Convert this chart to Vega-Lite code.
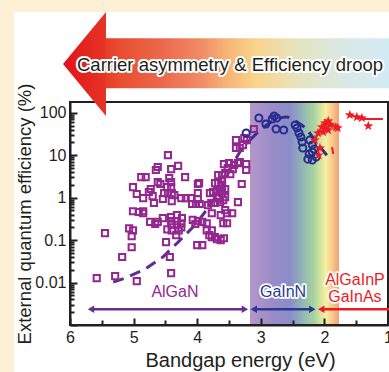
{
  "$schema": "https://vega.github.io/schema/vega-lite/v6.json",
  "width": 318,
  "height": 223,
  "autosize": "none",
  "padding": {"left": 70, "top": 102, "right": 1, "bottom": 47},
  "background": "#fdf0d4",
  "view": {"stroke": null},
  "config": {"font": "Liberation Sans"},
  "datasets": {
    "panel": [{"x": 6.88, "x2": 0.5, "y": 0.00001, "y2": 23900}],
    "band": [{"x": 3.17, "x2": 1.77, "y": 0.001, "y2": 180}],
    "frame": [{"x": 6, "x2": 1, "y": 0.001, "y2": 180}],
    "shaft": [{"x": 5.47, "x2": 0.9, "y": 378, "y2": 5710}],
    "head": [{"x": 5.772, "y": 1416}],
    "banner": [{"x": 3.484, "y": 942, "t": "Carrier asymmetry & Efficiency droop"}],
    "dash1": [
      {"x": 5.32, "y": 0.0102}, {"x": 5.14, "y": 0.0127}, {"x": 4.82, "y": 0.0207}, {"x": 4.54, "y": 0.04},
      {"x": 4.3, "y": 0.09}, {"x": 4.03, "y": 0.23}, {"x": 3.83, "y": 0.57}, {"x": 3.61, "y": 1.78},
      {"x": 3.48, "y": 5.0}, {"x": 3.31, "y": 13.3}, {"x": 3.17, "y": 22.8}
    ],
    "dash2": [
      {"x": 3.17, "y": 22.8}, {"x": 2.97, "y": 43.9}, {"x": 2.78, "y": 67.6}, {"x": 2.59, "y": 79.6},
      {"x": 2.43, "y": 60.7}, {"x": 2.3, "y": 43.9}, {"x": 2.13, "y": 20.5}, {"x": 1.94, "y": 9.1}
    ],
    "redlines": [
      {"g": "a", "o": 1, "x": 2.15, "y": 22.8}, {"g": "a", "o": 2, "x": 2.1, "y": 33}, {"g": "a", "o": 3, "x": 2.04, "y": 46},
      {"g": "a", "o": 4, "x": 1.99, "y": 57}, {"g": "a", "o": 5, "x": 1.94, "y": 64}, {"g": "a", "o": 6, "x": 1.88, "y": 55},
      {"g": "a", "o": 7, "x": 1.79, "y": 44},
      {"g": "b", "o": 1, "x": 1.88, "y": 15.6}, {"g": "b", "o": 2, "x": 1.86, "y": 10.7},
      {"g": "c", "o": 1, "x": 1.6, "y": 89}, {"g": "c", "o": 2, "x": 1.45, "y": 75}, {"g": "c", "o": 3, "x": 1.39, "y": 71.5},
      {"g": "c", "o": 4, "x": 1.08, "y": 71.5}
    ],
    "squares": [
      {"x":3.11,"y":41.5},{"x":3.22,"y":22.8},{"x":3.28,"y":17.4},{"x":3.39,"y":22.8},{"x":3.33,"y":14.8},{"x":3.39,"y":14.8},{"x":3.26,"y":25.5},{"x":3.33,"y":6.9},{"x":3.23,"y":6.2},{"x":3.23,"y":4.5},
      {"x":3.58,"y":6.2},{"x":3.50,"y":6.5},{"x":3.42,"y":5.9},{"x":3.36,"y":6.5},{"x":3.44,"y":4.7},{"x":3.48,"y":3.6},{"x":3.61,"y":3.4},{"x":3.61,"y":1.98},{"x":3.30,"y":2.1},{"x":4.46,"y":10.1},
      {"x":4.62,"y":5.3},{"x":4.65,"y":4.5},{"x":4.30,"y":5.6},{"x":4.41,"y":4.7},{"x":4.88,"y":3.06},{"x":4.81,"y":3.06},{"x":4.19,"y":3.06},{"x":4.44,"y":2.9},{"x":4.62,"y":2.33},{"x":4.58,"y":2.1},
      {"x":4.41,"y":2.33},{"x":4.47,"y":1.78},{"x":4.41,"y":1.78},{"x":3.99,"y":2.1},{"x":5.01,"y":1.78},{"x":4.73,"y":1.6},{"x":4.76,"y":1.36},{"x":4.52,"y":1.28},{"x":4.46,"y":1.28},{"x":4.40,"y":1.28},
      {"x":4.36,"y":1.15},{"x":4.95,"y":1.22},{"x":4.85,"y":0.98},{"x":4.70,"y":1.09},{"x":4.54,"y":0.93},{"x":4.40,"y":0.83},{"x":4.25,"y":0.98},{"x":4.18,"y":0.98},{"x":4.10,"y":0.98},{"x":3.99,"y":1.28},
      {"x":3.99,"y":0.93},{"x":3.80,"y":1.28},{"x":3.75,"y":1.36},{"x":3.69,"y":1.51},{"x":3.64,"y":1.6},{"x":3.56,"y":1.6},{"x":4.68,"y":0.75},{"x":4.08,"y":0.71},{"x":4.02,"y":0.71},{"x":3.96,"y":0.71},
      {"x":3.83,"y":0.67},{"x":3.78,"y":0.75},{"x":3.72,"y":0.75},{"x":3.66,"y":0.98},{"x":3.64,"y":0.79},{"x":3.59,"y":0.88},{"x":3.56,"y":1.03},{"x":3.61,"y":1.28},{"x":3.36,"y":0.79},{"x":3.52,"y":5.0},
      {"x":3.56,"y":3.8},{"x":3.67,"y":3.4},{"x":3.61,"y":2.6},{"x":3.67,"y":2.2},{"x":3.72,"y":2.2},{"x":5.01,"y":0.48},{"x":4.92,"y":0.46},{"x":4.85,"y":0.48},{"x":4.85,"y":0.43},{"x":4.74,"y":0.27},
      {"x":4.66,"y":0.24},{"x":4.62,"y":0.27},{"x":4.54,"y":0.33},{"x":4.41,"y":0.35},{"x":4.32,"y":0.39},{"x":4.24,"y":0.33},{"x":4.41,"y":0.28},{"x":4.32,"y":0.28},{"x":4.25,"y":0.25},{"x":4.40,"y":0.23},
      {"x":4.32,"y":0.23},{"x":4.25,"y":0.2},{"x":4.47,"y":0.18},{"x":4.40,"y":0.17},{"x":4.29,"y":0.17},{"x":5.07,"y":0.19},{"x":5.01,"y":0.17},{"x":5.03,"y":0.124},{"x":5.03,"y":0.068},{"x":5.18,"y":0.04},
      {"x":4.49,"y":0.09},{"x":4.43,"y":0.04},{"x":4.00,"y":0.076},{"x":3.92,"y":0.076},{"x":3.85,"y":0.17},{"x":3.77,"y":0.17},{"x":3.81,"y":0.131},{"x":3.69,"y":0.106},{"x":3.58,"y":0.111},{"x":3.63,"y":0.1},
      {"x":4.07,"y":0.3},{"x":3.99,"y":0.28},{"x":4.03,"y":0.24},{"x":3.92,"y":0.27},{"x":3.85,"y":0.25},{"x":3.77,"y":0.43},{"x":3.63,"y":0.39},{"x":3.56,"y":0.51},{"x":3.53,"y":0.43},{"x":3.45,"y":0.43},
      {"x":5.45,"y":0.146},{"x":5.58,"y":0.0127},{"x":5.29,"y":0.0142},{"x":4.95,"y":0.0108},{"x":4.41,"y":0.0167},{"x":4.33,"y":0.131},{"x":3.77,"y":0.118},{"x":3.72,"y":0.118},{"x":3.59,"y":0.25},{"x":3.53,"y":0.25},
      {"x":3.97,"y":2.2}
    ],
    "circles": [
      {"x":3.23,"y":33.4},{"x":3.03,"y":75.5},{"x":2.92,"y":54.5},{"x":2.82,"y":71.5},{"x":2.79,"y":84},{"x":2.75,"y":75.5},{"x":2.76,"y":41.5},{"x":2.64,"y":39.3},{"x":2.46,"y":51.6},{"x":2.43,"y":43.9},
      {"x":2.40,"y":33.4},{"x":2.37,"y":26.9},{"x":2.35,"y":20.5},{"x":2.34,"y":14.8},{"x":2.23,"y":22.8},{"x":2.19,"y":17.4},{"x":2.16,"y":14.0},{"x":2.24,"y":10.7},{"x":2.19,"y":11.9},{"x":2.26,"y":8.1},
      {"x":2.19,"y":7.7},{"x":2.13,"y":9.1}
    ],
    "stars": [
      {"x":1.6,"y":88.8},{"x":1.49,"y":79.6},{"x":1.41,"y":75.5},{"x":1.31,"y":48.9},
      {"x":2.15,"y":22.8},{"x":2.10,"y":33.4},{"x":2.04,"y":46.3},{"x":1.99,"y":57.5},{"x":1.94,"y":64},{"x":1.91,"y":51.6},
      {"x":1.99,"y":43.9},{"x":1.94,"y":39.3},{"x":2.02,"y":35.2},{"x":1.79,"y":43.9},{"x":2.07,"y":14.8},{"x":2.09,"y":10.1},{"x":1.82,"y":46}
    ],
    "ranges": [
      {"x": 5.67, "x2": 3.25, "y": 0.00236, "c": "p"},
      {"x": 3.11, "x2": 2.19, "y": 0.00236, "c": "b"},
      {"x": 2.05, "x2": 0.9, "y": 0.00236, "c": "r"}
    ],
    "heads": [
      {"x": 5.67, "y": 0.00236, "c": "p", "s": "L"},
      {"x": 3.25, "y": 0.00236, "c": "p", "s": "R"},
      {"x": 3.11, "y": 0.00236, "c": "b", "s": "L"},
      {"x": 2.19, "y": 0.00236, "c": "b", "s": "R"},
      {"x": 2.05, "y": 0.00236, "c": "r", "s": "L"}
    ],
    "labels": [
      {"x": 4.35, "y": 0.00594, "c": "m", "t": "AlGaN"},
      {"x": 2.65, "y": 0.00594, "c": "b", "t": "GaInN"},
      {"x": 1.52, "y": 0.0114, "c": "r", "t": "AlGaInP"},
      {"x": 1.52, "y": 0.00453, "c": "r", "t": "GaInAs"}
    ]
  },
  "encoding": {
    "x": {
      "field": "x", "type": "quantitative",
      "scale": {"domain": [1, 6], "reverse": true, "nice": false, "zero": false},
      "axis": {
        "values": [6, 5.5, 5, 4.5, 4, 3.5, 3, 2.5, 2, 1.5, 1],
        "labelExpr": "datum.value % 1 === 0 ? format(datum.value, 'd') : ''",
        "grid": false,
        "tickSize": {"condition": {"test": "datum.value % 1 === 0", "value": -7}, "value": -5},
        "tickWidth": 2, "tickColor": "#231f20",
        "domainWidth": 2, "domainColor": "#231f20",
        "labelFontSize": 16, "labelColor": "#231f20", "labelPadding": 11,
        "labelFlush": false, "labelOverlap": false,
        "title": "Bandgap energy (eV)", "titleFontSize": 20, "titleFontWeight": "normal",
        "titleColor": "#231f20", "titlePadding": 3, "titleX": 170,
        "zindex": 1
      }
    },
    "y": {
      "field": "y", "type": "quantitative",
      "scale": {"type": "log", "domain": [0.001, 180], "nice": false},
      "axis": {
        "values": [0.001,0.002,0.003,0.004,0.005,0.006,0.007,0.008,0.009,0.01,0.02,0.03,0.04,0.05,0.06,0.07,0.08,0.09,0.1,0.2,0.3,0.4,0.5,0.6,0.7,0.8,0.9,1,2,3,4,5,6,7,8,9,10,20,30,40,50,60,70,80,90,100],
        "labelExpr": "indexof([0.01,0.1,1,10,100], datum.value) >= 0 ? format(datum.value, '~g') : ''",
        "grid": false,
        "tickSize": {"condition": {"test": "indexof([0.001,0.01,0.1,1,10,100], datum.value) >= 0", "value": -7}, "value": -4},
        "tickWidth": 2, "tickColor": "#231f20",
        "domainWidth": 2, "domainColor": "#231f20",
        "labelFontSize": 16, "labelColor": "#231f20", "labelPadding": 11,
        "labelFlush": false, "labelOverlap": false,
        "title": "External quantum efficiency (%)", "titleFontSize": 18.5, "titleFontWeight": "normal",
        "titleColor": "#231f20", "titlePadding": 0,
        "zindex": 1
      }
    }
  },
  "layer": [
    {"data": {"name": "panel"}, "mark": {"type": "rect", "fill": "white"},
     "encoding": {"x2": {"field": "x2"}, "y2": {"field": "y2"}}},
    {"data": {"name": "band"},
     "mark": {"type": "rect", "fill": {"gradient": "linear", "x1": 0, "y1": 0, "x2": 1, "y2": 0,
       "stops": [
         {"offset": 0, "color": "#b597c9"}, {"offset": 0.25, "color": "#9a8cc8"}, {"offset": 0.45, "color": "#8a8dc9"},
         {"offset": 0.6, "color": "#92b8b4"}, {"offset": 0.72, "color": "#a9d49e"}, {"offset": 0.85, "color": "#f7f0a0"},
         {"offset": 0.93, "color": "#f8c68a"}, {"offset": 1, "color": "#f2a07a"}]}},
     "encoding": {"x2": {"field": "x2"}, "y2": {"field": "y2"}}},
    {"data": {"name": "frame"}, "mark": {"type": "rect", "fill": null, "filled": false, "stroke": "#231f20", "strokeWidth": 2},
     "encoding": {"x2": {"field": "x2"}, "y2": {"field": "y2"}}},
    {"data": {"name": "shaft"},
     "mark": {"type": "rect", "fill": {"gradient": "linear", "x1": 0, "y1": 0, "x2": 1, "y2": 0,
       "stops": [
         {"offset": 0, "color": "#e63a26"}, {"offset": 0.05, "color": "#e84c30"}, {"offset": 0.21, "color": "#ec6b4e"},
         {"offset": 0.33, "color": "#f08a65"}, {"offset": 0.42, "color": "#f6b276"}, {"offset": 0.52, "color": "#fad38a"},
         {"offset": 0.67, "color": "#e6e4c0"}, {"offset": 0.85, "color": "#d8e9ea"}, {"offset": 1, "color": "#d2ebf7"}]}},
     "encoding": {"x2": {"field": "x2"}, "y2": {"field": "y2"}}},
    {"data": {"name": "head"},
     "mark": {"type": "point", "shape": "M-0.413,0L0.413,-1L0.413,1Z", "size": 10816, "filled": true, "opacity": 1,
       "fill": {"gradient": "linear", "x1": 0, "y1": 0, "x2": 1, "y2": 0,
         "stops": [{"offset": 0, "color": "#e2111a"}, {"offset": 1, "color": "#e63625"}]}}},
    {"data": {"name": "banner"},
     "mark": {"type": "text", "fontSize": 18.5, "baseline": "alphabetic", "align": "center", "fill": "white", "stroke": "white", "strokeWidth": 4, "strokeJoin": "round"},
     "encoding": {"text": {"field": "t"}}},
    {"data": {"name": "banner"},
     "mark": {"type": "text", "fontSize": 18.5, "baseline": "alphabetic", "align": "center", "fill": "#231f20"},
     "encoding": {"text": {"field": "t"}}},
    {"data": {"name": "dash1"},
     "mark": {"type": "line", "stroke": "#5e2c8e", "strokeWidth": 3, "strokeDash": [11, 7]}},
    {"data": {"name": "dash2"},
     "mark": {"type": "line", "stroke": "#2b3190", "strokeWidth": 3, "strokeDash": [11, 7], "interpolate": "monotone"}},
    {"data": {"name": "redlines"},
     "mark": {"type": "line", "stroke": "#ed1c24", "strokeWidth": 2},
     "encoding": {"detail": {"field": "g"}, "order": {"field": "o", "type": "quantitative"}}},
    {"data": {"name": "squares"},
     "mark": {"type": "point", "shape": "square", "filled": false, "stroke": "#93278f", "strokeWidth": 2, "size": 38, "opacity": 1}},
    {"data": {"name": "circles"},
     "mark": {"type": "point", "shape": "circle", "filled": false, "stroke": "#262b8f", "strokeWidth": 2, "size": 50, "opacity": 1}},
    {"data": {"name": "stars"},
     "mark": {"type": "point", "shape": "M0,-1L0.235,-0.324L0.951,-0.309L0.38,0.124L0.588,0.809L0,0.4L-0.588,0.809L-0.38,0.124L-0.951,-0.309L-0.235,-0.324Z", "filled": true, "fill": "#ed1c24", "size": 110, "opacity": 1}},
    {"data": {"name": "ranges"},
     "mark": {"type": "rule", "strokeWidth": 2.5},
     "encoding": {"x2": {"field": "x2"},
       "color": {"field": "c", "type": "nominal", "scale": {"domain": ["p", "b", "r", "m"], "range": ["#6a2c91", "#2b3990", "#ed1c24", "#93278f"]}, "legend": null}}},
    {"data": {"name": "heads"},
     "mark": {"type": "point", "filled": true, "size": 55, "opacity": 1},
     "encoding": {
       "color": {"field": "c", "type": "nominal", "legend": null},
       "shape": {"field": "s", "type": "nominal", "scale": {"domain": ["L", "R"], "range": ["triangle-left", "triangle-right"]}, "legend": null}}},
    {"data": {"name": "labels"},
     "mark": {"type": "text", "fontSize": 16, "baseline": "middle", "align": "center", "fill": "white", "stroke": "white", "strokeWidth": 3.5, "strokeJoin": "round"},
     "encoding": {"text": {"field": "t"}}},
    {"data": {"name": "labels"},
     "mark": {"type": "text", "fontSize": 16, "baseline": "middle", "align": "center"},
     "encoding": {"text": {"field": "t"}, "color": {"field": "c", "type": "nominal", "legend": null}}}
  ]
}
